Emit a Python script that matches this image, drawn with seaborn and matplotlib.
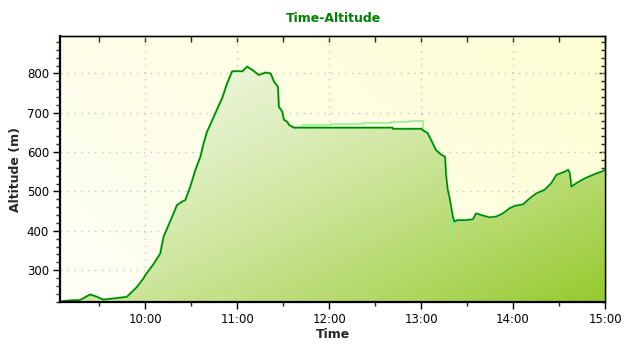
import numpy as np
import pandas as pd
import matplotlib
matplotlib.use("Agg")
import matplotlib.pyplot as plt
import matplotlib.dates as mdates
from matplotlib.ticker import MultipleLocator
import seaborn as sns

# ---- data ----
times = ["09:04:24", "09:10:54", "09:17:30", "09:24:00", "09:27:18", "09:32:42",
         "09:39:18", "09:48:00", "09:54:36", "09:58:54", "10:00:00", "10:05:24",
         "10:09:48", "10:12:00", "10:18:30", "10:20:42", "10:24:00", "10:26:12",
         "10:29:24", "10:32:42", "10:36:00", "10:38:06", "10:40:24", "10:45:48",
         "10:50:12", "10:53:30", "10:56:42", "11:00:00", "11:03:18", "11:06:30",
         "11:09:48", "11:14:06", "11:18:30", "11:21:48", "11:24:00", "11:26:36",
         "11:27:12", "11:29:24", "11:30:30", "11:32:42", "11:33:48", "11:37:00",
         "12:41:24", "12:41:36", "13:00:24", "13:01:00", "13:04:18", "13:07:36",
         "13:09:42", "13:13:00", "13:15:36", "13:16:18", "13:17:24", "13:18:24",
         "13:20:42", "13:21:42", "13:23:54", "13:29:24", "13:33:48", "13:35:54",
         "13:39:12", "13:44:36", "13:49:00", "13:53:24", "13:57:42", "14:01:00",
         "14:06:30", "14:10:48", "14:15:12", "14:20:36", "14:25:00", "14:28:18",
         "14:33:42", "14:36:00", "14:37:00", "14:38:06", "14:41:24", "14:46:48",
         "14:53:18", "14:57:42", "15:00:00"]
altitude = [220, 223, 224, 238, 234, 225,
            228, 232, 257, 279, 287, 315,
            342, 385, 444, 465, 474, 478,
            512, 554, 588, 622, 652, 699,
            737, 775, 805, 806, 805, 817,
            809, 796, 802, 800, 779, 766,
            715, 703, 682, 677, 669, 662,
            662, 659, 659, 656, 648, 622,
            605, 594, 588, 541, 504, 487,
            436, 423, 427, 427, 429, 444,
            440, 434, 436, 444, 457, 463,
            467, 482, 495, 504, 521, 542,
            550, 555, 546, 512, 521, 533,
            544, 550, 555]

# second (raw) trace where it departs from the main one
raw_times = ["11:37:00", "11:42:24", "12:01:00", "12:21:48", "12:40:18",
             "12:52:00", "13:00:24", "13:01:00"]
raw_altitude = [664, 669, 671.5, 674, 676.6, 678, 678, 656]
spike_times = ["13:19:30", "13:20:00", "13:20:30"]
spike_altitude = [440, 384, 430]

x_ticks = ["10:00", "11:00", "12:00", "13:00", "14:00", "15:00"]
y_ticks = [300, 400, 500, 600, 700, 800]

day = "2020-01-01 "
df = pd.DataFrame({"Time": pd.to_datetime([day + t for t in times]),
                   "Altitude": altitude})
raw = pd.DataFrame({"Time": pd.to_datetime([day + t for t in raw_times]),
                    "Altitude": raw_altitude})
spike = pd.DataFrame({"Time": pd.to_datetime([day + t for t in spike_times]),
                      "Altitude": spike_altitude})

sns.set_style("white")
plt.rcParams["font.family"] = ["DejaVu Sans"]

fig = plt.figure(figsize=(6.4, 3.5), dpi=100)
ax = fig.add_axes([60 / 640, 1 - 302 / 350, 545 / 640, 266 / 350])

# background gradient
nx, ny = 256, 256
gx, gy = np.meshgrid(np.linspace(0, 1, nx), np.linspace(1, 0, ny))
v = np.clip(0.65 * gx + 0.35 * gy, 0, 1)
c0 = np.array([254, 254, 246]) / 255
c1 = np.array([255, 255, 212]) / 255
bg = c0[None, None, :] * (1 - v[..., None]) + c1[None, None, :] * v[..., None]
ax.imshow(bg, extent=[0, 1, 0, 1], transform=ax.transAxes, aspect="auto",
          zorder=0, interpolation="bilinear")

# fill gradient
w = np.clip((gx + (1 - gy)) / 2, 0, 1) ** 1.4
f0 = np.array([246, 250, 238]) / 255
f1 = np.array([150, 202, 45]) / 255
fg = f0[None, None, :] * (1 - w[..., None]) + f1[None, None, :] * w[..., None]

ax.grid(True, which="major", linestyle=(0, (1, 4)), color="#c4c4c4",
        linewidth=1.0, zorder=1)
ax.set_axisbelow(True)

sns.lineplot(data=df, x="Time", y="Altitude", ax=ax, color="#90EE90",
             linewidth=1.9, estimator=None, sort=False, zorder=3)
sns.lineplot(data=raw, x="Time", y="Altitude", ax=ax, color="#90EE90",
             linewidth=1.1, estimator=None, sort=False, zorder=3,
             drawstyle="steps-post")
sns.lineplot(data=spike, x="Time", y="Altitude", ax=ax, color="#90EE90",
             linewidth=1.0, estimator=None, sort=False, zorder=3)
sns.lineplot(data=df, x="Time", y="Altitude", ax=ax, color="#008000",
             linewidth=1.1, estimator=None, sort=False, zorder=4)

poly = ax.fill_between(df["Time"], df["Altitude"], 100, facecolor="none",
                       edgecolor="none")
im = ax.imshow(fg, extent=[0, 1, 0, 1], transform=ax.transAxes, aspect="auto",
               zorder=2, interpolation="bilinear")
im.set_clip_path(poly.get_paths()[0], ax.transData)

ax.set_xlim(df["Time"].iloc[0], df["Time"].iloc[-1])
ax.set_ylim(219, 895)

ax.xaxis.set_major_locator(mdates.HourLocator())
ax.xaxis.set_major_formatter(mdates.DateFormatter("%H:%M"))
ax.xaxis.set_minor_locator(mdates.MinuteLocator(byminute=[30]))
ax.set_yticks(y_ticks)
ax.yaxis.set_minor_locator(MultipleLocator(20))

ax.tick_params(axis="both", which="both", left=True, bottom=True,
               top=False, right=False)
ax.tick_params(axis="both", which="major", direction="out", length=5,
               width=1, labelsize=8.5, colors="black", pad=3)
ax.tick_params(axis="both", which="minor", direction="out", length=3, width=1)

for s in ["left", "bottom"]:
    ax.spines[s].set_linewidth(1.6)
for s in ["top", "right"]:
    ax.spines[s].set_linewidth(1.0)
for s in ax.spines.values():
    s.set_color("black")
    s.set_visible(True)
    s.set_zorder(6)

# top and right inward ticks
sec_x = ax.secondary_xaxis("top")
sec_x.xaxis.set_major_locator(mdates.HourLocator())
sec_x.xaxis.set_minor_locator(mdates.MinuteLocator(byminute=[30]))
sec_x.tick_params(which="both", direction="in", length=4, width=1,
                  top=True, labeltop=False)
sec_x.spines["top"].set_linewidth(1.0)
sec_y = ax.secondary_yaxis("right")
sec_y.set_yticks(y_ticks)
sec_y.yaxis.set_minor_locator(MultipleLocator(20))
sec_y.tick_params(which="major", direction="in", length=4, width=1,
                  right=True, labelright=False)
sec_y.tick_params(which="minor", direction="in", length=3, width=1, right=True)
sec_y.spines["right"].set_linewidth(1.0)

ax.set_xlabel("Time", fontsize=9, fontweight="bold", labelpad=1)
ax.set_ylabel("Altitude (m)", fontsize=9, fontweight="bold", labelpad=3)
fig.text(333 / 640, 1 - 18 / 350, "Time-Altitude", ha="center", va="center",
         fontsize=9, fontweight="bold", color="#008000")

fig.savefig("out.png", dpi=100, facecolor="white")
